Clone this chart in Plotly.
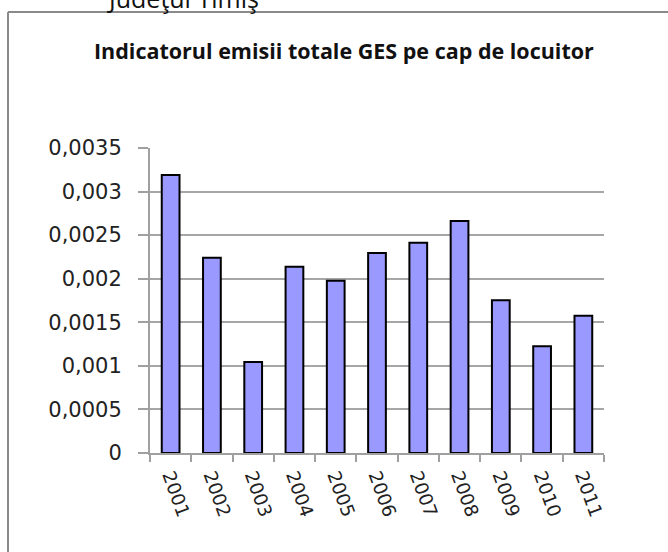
import plotly.graph_objects as go

years = ["2001", "2002", "2003", "2004", "2005", "2006", "2007", "2008", "2009", "2010", "2011"]
values = [0.00319, 0.00224, 0.001045, 0.002136, 0.001976, 0.002296, 0.002414, 0.002662, 0.001754, 0.001224, 0.001575]
y_tickvals = [0, 0.0005, 0.001, 0.0015, 0.002, 0.0025, 0.003, 0.0035]
y_ticktext = ["0", "0,0005", "0,001", "0,0015", "0,002", "0,0025", "0,003", "0,0035"]
title_text = "Indicatorul emisii totale GES pe cap de locuitor"
top_text = "Judeţul Timiş"

W, H = 668, 552
L, R, T, B = 150, 64, 148, 99
pw, ph = W - L - R, H - T - B


def px(x):
    return (x - L) / pw


def py(y):
    return (H - B - y) / ph


fig = go.Figure()
fig.add_trace(go.Bar(
    x=years, y=values,
    marker=dict(color="#9999ff", line=dict(color="#000000", width=2)),
))

fig.update_layout(
    width=W, height=H,
    margin=dict(l=L, r=R, t=T, b=B, autoexpand=False),
    paper_bgcolor="white", plot_bgcolor="white",
    bargap=0.57,
    showlegend=False,
    font=dict(family="DejaVu Sans", color="#222222"),
)
fig.update_xaxes(
    type="category",
    showline=True, linecolor="#a0a0a0", linewidth=2,
    ticks="outside", tickson="boundaries", ticklen=7, tickcolor="#a0a0a0", tickwidth=2,
    tickangle=70, tickfont=dict(size=18.5, family="DejaVu Sans", color="#222222"),
    ticklabelstandoff=3,
    showgrid=False,
)
fig.update_yaxes(
    range=[0, 0.0035],
    tickvals=y_tickvals, ticktext=y_ticktext,
    showline=True, linecolor="#a0a0a0", linewidth=2,
    ticks="outside", ticklen=10, tickcolor="#a0a0a0", tickwidth=2,
    showgrid=True, gridcolor="#a6a6a6", gridwidth=1.5,
    tickfont=dict(size=21, family="DejaVu Sans", color="#222222"),
    ticklabelstandoff=12,
    zeroline=False,
)

# chart border (top and left)
fig.add_shape(type="line", xref="paper", yref="paper",
              x0=px(8), y0=py(12), x1=px(700), y1=py(12),
              line=dict(color="#8a8a8a", width=2))
fig.add_shape(type="line", xref="paper", yref="paper",
              x0=px(8), y0=py(12), x1=px(8), y1=py(600),
              line=dict(color="#8a8a8a", width=2))

fig.add_annotation(text="<b>" + title_text + "</b>", xref="paper", yref="paper",
                   x=px(344), y=py(51), xanchor="center", yanchor="middle",
                   showarrow=False, font=dict(family="Open Sans", size=21.5, color="#111111"))
fig.add_annotation(text=top_text, xref="paper", yref="paper",
                   x=px(183), y=py(-2), xanchor="center", yanchor="middle",
                   showarrow=False, font=dict(family="Open Sans", size=25, color="#111111"))

fig.write_html("out.html", config={"displayModeBar": False},
               post_script="document.body.style.margin='0';document.body.style.padding='0';document.body.style.overflow='hidden';")
